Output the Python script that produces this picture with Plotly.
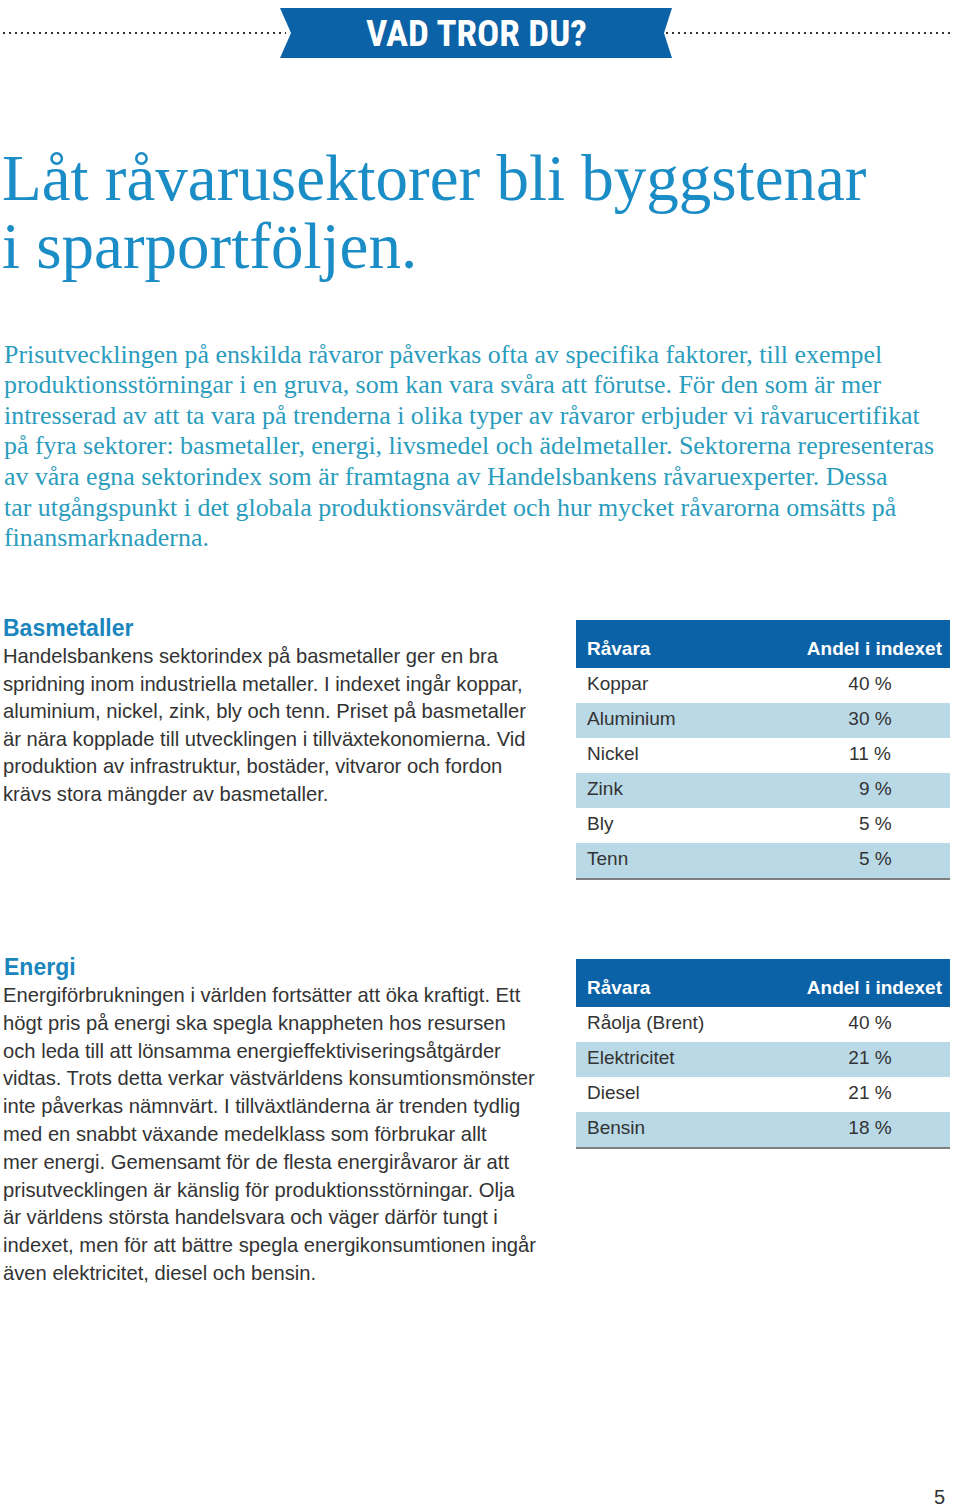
import plotly.graph_objects as go

W, H = 960, 1508

# ---------------- content ----------------
banner_text = "VAD TROR DU?"
title_lines = ["Låt råvarusektorer bli byggstenar", "i sparportföljen."]
intro_lines = [
    "Prisutvecklingen på enskilda råvaror påverkas ofta av specifika faktorer, till exempel",
    "produktionsstörningar i en gruva, som kan vara svåra att förutse. För den som är mer",
    "intresserad av att ta vara på trenderna i olika typer av råvaror erbjuder vi råvarucertifikat",
    "på fyra sektorer: basmetaller, energi, livsmedel och ädelmetaller. Sektorerna representeras",
    "av våra egna sektorindex som är framtagna av Handelsbankens råvaruexperter. Dessa",
    "tar utgångspunkt i det globala produktionsvärdet och hur mycket råvarorna omsätts på",
    "finansmarknaderna.",
]
bas_heading = "Basmetaller"
bas_lines = [
    "Handelsbankens sektorindex på basmetaller ger en bra",
    "spridning inom industriella metaller. I indexet ingår koppar,",
    "aluminium, nickel, zink, bly och tenn. Priset på basmetaller",
    "är nära kopplade till utvecklingen i tillväxtekonomierna. Vid",
    "produktion av infrastruktur, bostäder, vitvaror och fordon",
    "krävs stora mängder av basmetaller.",
]
energi_heading = "Energi"
energi_lines = [
    "Energiförbrukningen i världen fortsätter att öka kraftigt. Ett",
    "högt pris på energi ska spegla knappheten hos resursen",
    "och leda till att lönsamma energieffektiviseringsåtgärder",
    "vidtas. Trots detta verkar västvärldens konsumtionsmönster",
    "inte påverkas nämnvärt. I tillväxtländerna är trenden tydlig",
    "med en snabbt växande medelklass som förbrukar allt",
    "mer energi. Gemensamt för de flesta energiråvaror är att",
    "prisutvecklingen är känslig för produktionsstörningar. Olja",
    "är världens största handelsvara och väger därför tungt i",
    "indexet, men för att bättre spegla energikonsumtionen ingår",
    "även elektricitet, diesel och bensin.",
]
table_headers = ["Råvara", "Andel i indexet"]
bas_ravara = ["Koppar", "Aluminium", "Nickel", "Zink", "Bly", "Tenn"]
bas_andel = [40, 30, 11, 9, 5, 5]
energi_ravara = ["Råolja (Brent)", "Elektricitet", "Diesel", "Bensin"]
energi_andel = [40, 21, 21, 18]
page_number = "5"

# ---------------- styles ----------------
BLUE = "#0b62a6"
LIGHT = "#bad9e6"
TITLE_C = "#1a8cc6"
INTRO_C = "#2a9cbd"
HEAD_C = "#1a86bd"
BODY_C = "#333333"
SERIF = "Liberation Serif, DejaVu Serif, serif"
SANS = "Liberation Sans, Arial, sans-serif"

fig = go.Figure()
annotations = []
shapes = []


def txt(x, y, s, size, color, family, weight="normal", xanchor="left"):
    annotations.append(dict(
        x=x, y=y, xref="x", yref="y", text=s, showarrow=False,
        xanchor=xanchor, yanchor="middle",
        font=dict(size=size, color=color, family=family, weight=weight),
    ))


# banner
shapes.append(dict(type="path", xref="x", yref="y",
                   path="M 280 8 L 672 8 L 664 33 L 672 58 L 280 58 L 291 33 Z",
                   fillcolor=BLUE, line=dict(width=0)))
for x0, x1 in [(3, 286), (666, 950)]:
    shapes.append(dict(type="line", xref="x", yref="y", x0=x0, x1=x1, y0=33, y1=33,
                       line=dict(color="#333333", width=2, dash="2px,4px")))
txt(476, 33, banner_text, 37, "white",
    "Liberation Sans Narrow, Roboto Condensed, Liberation Sans", weight="bold",
    xanchor="center")

# title
for y, s in zip([178, 246], title_lines):
    txt(0, y, s, 65, TITLE_C, SERIF)

# intro
for i, s in enumerate(intro_lines):
    txt(2, 354 + i * 30.6, s, 25.9, INTRO_C, SERIF)

# sections
txt(1, 628, bas_heading, 23, HEAD_C, SANS, weight="bold")
for i, s in enumerate(bas_lines):
    txt(1, 656 + i * 27.6, s, 20.2, BODY_C, SANS)

txt(2, 967, energi_heading, 23, HEAD_C, SANS, weight="bold")
for i, s in enumerate(energi_lines):
    txt(1, 995 + i * 27.8, s, 20.2, BODY_C, SANS)

txt(947, 1497, page_number, 20, "#333333", SANS, xanchor="right")


# tables
def add_table(names, values, top):
    n = len(names)
    band, head_h, row_h = 13, 35, 35
    x0, x1 = 576, 950
    vals = [("\u2007" if v < 10 else "") + f"{v} %" for v in values]
    fills = ["white" if i % 2 == 0 else LIGHT for i in range(n)]
    ttop = top + band
    bottom = ttop + head_h + row_h * n + 2
    # blue band above the header row (header text sits low in its bar)
    shapes.append(dict(type="rect", xref="x", yref="y", x0=x0, x1=x1, y0=top, y1=ttop + 1,
                       fillcolor=BLUE, line=dict(width=0), layer="below"))
    fig.add_trace(go.Table(
        domain=dict(x=[x0 / W, x1 / W], y=[1 - (bottom + 10) / H, 1 - ttop / H]),
        columnwidth=[3, 211, 160],
        header=dict(values=[""] + table_headers, fill_color=[[BLUE]] * 3, height=head_h,
                    align=["left", "left", "right"], line=dict(color="white", width=0),
                    font=dict(color="white", size=19, family=SANS, weight="bold")),
        cells=dict(values=[[""] * n, names, vals], fill_color=[fills] * 3, height=row_h,
                   align=["left", "left", "center"], line=dict(color="white", width=0),
                   font=dict(color=BODY_C, size=19, family=SANS)),
    ))
    yb = ttop + head_h + row_h * n + 1
    shapes.append(dict(type="line", xref="x", yref="y", x0=x0, x1=x1, y0=yb, y1=yb,
                       line=dict(color="#555555", width=1.5)))


add_table(bas_ravara, bas_andel, 620)
add_table(energi_ravara, energi_andel, 959)

fig.update_layout(
    width=W, height=H, margin=dict(l=0, r=0, t=0, b=0),
    paper_bgcolor="white", plot_bgcolor="white",
    xaxis=dict(range=[0, W], visible=False, fixedrange=True),
    yaxis=dict(range=[H, 0], visible=False, fixedrange=True),
    annotations=annotations, shapes=shapes, showlegend=False,
)
fig.write_html("out.html", config={"displayModeBar": False},
               post_script="document.body.style.margin='0';")
